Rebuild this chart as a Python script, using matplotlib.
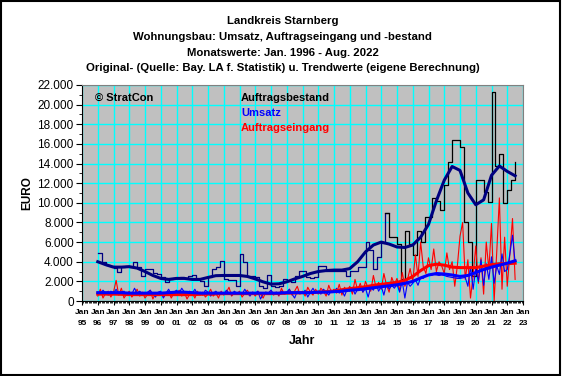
import numpy as np
import matplotlib
matplotlib.use("Agg")
import matplotlib.pyplot as plt
from matplotlib.ticker import MultipleLocator, FixedLocator
from matplotlib.patches import Rectangle

plt.rcParams['font.family'] = ['Liberation Sans', 'DejaVu Sans']

title_lines = [
    "Landkreis Starnberg",
    "Wohnungsbau: Umsatz, Auftragseingang und -bestand",
    "Monatswerte: Jan. 1996 - Aug. 2022",
    "Original- (Quelle: Bay. LA f. Statistik) u. Trendwerte (eigene Berechnung)",
]
series_names = ["Auftragsbestand", "Umsatz", "Auftragseingang"]
tick_years = list(range(1995, 2024))

# Auftragsbestand, quarterly originals 1996 Q1 .. 2022 Q3 (EURO)
bestand_orig = [
    4850, 4000, 3700, 3600,
    3400, 3000, 3500, 3600,
    3500, 4000, 3500, 2500,
    3300, 3300, 2900, 2700,
    2400, 1900, 2200, 2300,
    2300, 2400, 2300, 2500,
    2600, 2200, 2000, 1500,
    2400, 3300, 3500, 4100,
    2200, 2100, 2100, 1500,
    4800, 4000, 2500, 2500,
    2400, 1500, 1300, 2600,
    1500, 1400, 1500, 2200,
    2000, 1900, 2500, 3100,
    3100, 2400, 2300, 2400,
    3600, 3600, 3100, 3100,
    3100, 3100, 3100, 2500,
    3100, 3100, 3500, 3500,
    6000, 5200, 3300, 4500,
    5900, 9000, 6500, 6500,
    5800, 2200, 7100, 5800,
    4700, 7100, 6000, 8600,
    8600, 10500, 10200, 9300,
    11800, 14200, 16400, 16400,
    15700, 8000, 6000, 2500,
    12300, 12300, 11100, 10100,
    21300, 13800, 15000, 10000,
    11300, 12300, 14200,
]

# trend values, half-yearly 1996.0 .. 2022.5
bestand_trend = [
    4000, 3700, 3450, 3450, 3500, 3350, 3000, 2600, 2300, 2200,
    2300, 2300, 2200, 2200, 2400, 2580, 2600, 2600, 2600, 2500,
    2250, 1950, 1720, 1750, 1950, 2250, 2500, 2800, 3000, 3100,
    3150, 3150, 3300, 4000, 5000, 5700, 6000, 5800, 5500, 5450,
    5700, 6500, 7800, 10200, 12300, 13700, 13300, 11000, 9800, 10300,
    12800, 13750, 13200, 12750,
]
umsatz_trend = [
    850, 850, 850, 850, 800, 800, 800, 800, 800, 850,
    900, 900, 850, 800, 800, 800, 800, 800, 800, 800,
    800, 800, 800, 800, 850, 850, 850, 850, 900, 900,
    950, 1000, 1100, 1150, 1250, 1350, 1450, 1550, 1650, 1800,
    2000, 2350, 2650, 2800, 2750, 2650, 2500, 2600, 2900, 3200,
    3450, 3650, 3850, 4100,
]
eingang_trend = [
    700, 700, 700, 680, 650, 650, 650, 650, 650, 650,
    650, 650, 650, 680, 700, 720, 750, 750, 750, 750,
    750, 750, 750, 770, 800, 820, 850, 870, 900, 950,
    1000, 1150, 1250, 1350, 1450, 1600, 1700, 1800, 1900, 2100,
    2500, 3100, 3600, 3750, 3650, 3450, 3400, 3400, 3400, 3550,
    3700, 3800, 3800, 3850,
]

# originals every second month, Jan 1996 .. Jul 2022
umsatz_orig = [
    900, 700, 1100, 800, 600, 1000,
    800, 1200, 700, 900, 1000, 600,
    900, 700, 1300, 800, 1000, 700,
    600, 900, 1100, 700, 400, 900,
    1000, 300, 800, 1200, 700, 900,
    1100, 800, 1300, 900, 700, 1000,
    800, 1200, 700, 900, 600, 1100,
    900, 500, 800, 1000, 700, 900,
    700, 1100, 800, 600, 1000, 800,
    900, 700, 1200, 800, 500, 900,
    800, 1000, 200, 700, 900, 800,
    1100, 700, 900, 600, 1000, 800,
    900, 1200, 700, 300, 1000, 900,
    800, 1100, 400, 900, 1300, 800,
    1000, 700, 1200, 900, 600, 1100,
    900, 1300, 800, 1100, 500, 1200,
    1000, 1400, 700, 1200, 1500, 900,
    1300, 400, 1400, 1100, 1700, 1000,
    1500, 600, 1800, 1200, 1600, 1300,
    1700, 900, 2000, 300, 1900, 1500,
    1800, 2200, 1600, 2400, 2300, 2600,
    2700, 2600, 2700, 2650, 2600, 2650,
    2600, 2500, 2450, 2400, 2350, 2300,
    2300, 2350, 2400, 1500, 3500, 1200,
    3300, 2000, 4200, 1600, 3800, 2200,
    4500, 1800, 3600, 2700, 4800, 3000,
    3200, 4800, 6700, 3900,
]
eingang_orig = [
    500, 1200, 300, 800, 1000, 400,
    900, 2100, 600, 1300, 300, 700,
    1000, 400, 800, 1200, 500, 900,
    300, 700, 1100, 200, 800, 600,
    900, 400, 700, 1000, 300, 800,
    600, 1100, 500, 900, 200, 700,
    800, 300, 1000, 600, 900, 400,
    700, 1200, 500, 800, 300, 1000,
    600, 900, 1400, 500, 800, 700,
    1000, 400, 800, 1100, 600, 900,
    500, 1000, 700, 300, 900, 800,
    1100, 600, 900, 500, 1300, 700,
    800, 1200, 600, 1000, 1500, 700,
    1000, 500, 1400, 900, 600, 1200,
    700, 1300, 1000, 500, 1600, 900,
    1200, 800, 1700, 600, 1400, 1000,
    1500, 700, 2200, 1100, 1800, 900,
    2000, 1300, 1000, 2600, 1400, 1900,
    1200, 2800, 1600, 900, 2400, 1700,
    2300, 1000, 2900, 1500, 2200, 3300,
    2000, 4700, 2500, 6000, 3500, 2800,
    4400, 3200, 5300, 3000, 4000, 3600,
    2800, 4900, 3200, 4000, 1500, 3600,
    6600, 8000, 2200, 4200, 300, 2600,
    5600, 1800, 4400, 700, 6000, 3200,
    7900, 0, 5000, 10500, 1200, 6500,
    1500, 4800, 8400, 2200,
]

t_q = 1996 + np.arange(len(bestand_orig)) / 4
t_h = 1996 + np.arange(len(bestand_trend)) / 2
t_m = 1996 + np.arange(len(umsatz_orig)) / 6

fig = plt.figure(figsize=(5.62, 3.76), dpi=100)
ax = fig.add_axes([82 / 562, 1 - 301 / 376, 441 / 562, 216 / 376])
ax.set_facecolor('#C0C0C0')

# grid
ax.set_xlim(1995, 2023)
ax.set_ylim(0, 22000)
ax.xaxis.set_major_locator(FixedLocator(tick_years))
ax.xaxis.set_minor_locator(MultipleLocator(1 / 12))
ax.yaxis.set_major_locator(MultipleLocator(2000))
ax.yaxis.set_minor_locator(MultipleLocator(1000))
ax.grid(True, which='major', color='#00FFFF', lw=1.0)
ax.set_axisbelow(True)

# Auftragsbestand: navy up to mid 2014, black afterwards
split = 74
ax.step(t_q[:split + 1], bestand_orig[:split] + [bestand_orig[split - 1]],
        where='post', color='#000080', lw=0.9)
ax.step(t_q[split - 1:], bestand_orig[split - 1:], where='post', color='black', lw=0.9)
ax.plot(t_h, bestand_trend, color='#000080', lw=2.2)

ax.plot(t_m, eingang_orig, color='#FF0000', lw=0.8)
ax.plot(t_m, umsatz_orig, color='#0000FF', lw=0.8)
ax.plot(t_h, eingang_trend, color='#FF0000', lw=2.2)
ax.plot(t_h, umsatz_trend, color='#0000FF', lw=2.2)

# axes styling
for side in ['top', 'right']:
    ax.spines[side].set_color('#808080')
ax.spines['left'].set_color('black')
ax.spines['bottom'].set_color('black')
ax.tick_params(axis='y', which='major', length=4, labelsize=8.5, pad=2)
ax.tick_params(axis='y', which='minor', length=2)
ax.tick_params(axis='x', which='major', length=3, labelsize=6, pad=3)
ax.tick_params(axis='x', which='minor', length=1.5, width=0.6)
ax.set_yticklabels([f"{int(v):,}".replace(",", ".") for v in ax.get_yticks()])
ax.set_xticklabels([f"Jan\n{y % 100:02d}" for y in tick_years],
                   fontweight='bold', linespacing=1.7)

ax.set_ylabel("EURO", fontsize=8.5, fontweight='bold')
ax.yaxis.set_label_coords((33 - 82) / 441, 0.5)
ax.set_xlabel("Jahr", fontsize=9, fontweight='bold')
ax.xaxis.set_label_coords(0.5, -(335 - 301) / 216)

# in-plot labels
ax.text(0.03, 0.941, "\u00a9 StratCon", transform=ax.transAxes, fontsize=8,
        fontweight='bold', va='center', ha='left')
for name, col, yy in zip(series_names, ['black', '#0000FF', '#FF0000'], [0.941, 0.869, 0.801]):
    ax.text(0.3605, yy, name, transform=ax.transAxes, fontsize=8,
            fontweight='bold', color=col, va='center', ha='left')

# title
for line, yy in zip(title_lines, [21, 37, 53, 68]):
    fig.text(0.503, 1 - yy / 376, line, ha='center', va='center', fontsize=8.2,
             fontweight='bold')

fig.patches.append(Rectangle((0.002, 0.003), 0.995, 0.994, transform=fig.transFigure,
                             fill=False, edgecolor='black', lw=1.5))

fig.savefig("out.png", dpi=100)
